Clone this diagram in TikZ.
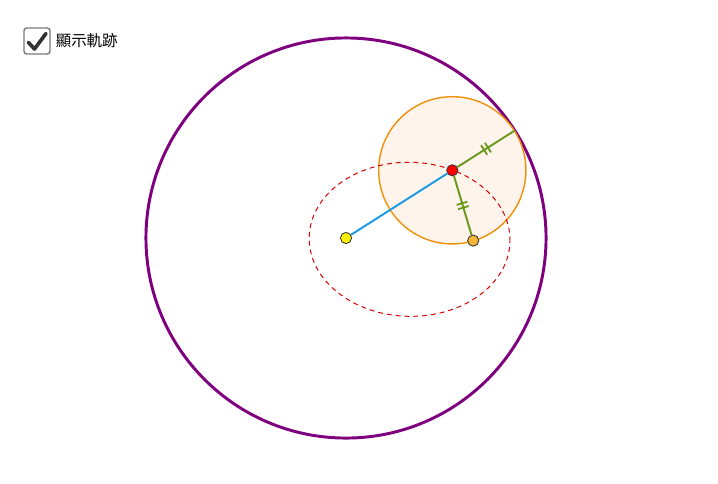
\documentclass[tikz,border=0pt]{standalone}
\usepackage{fontspec}
\newfontfamily\cjk{Noto Sans CJK TC}
\usepackage{tikz}
\usetikzlibrary{calc,positioning,decorations.markings}
\definecolor{locuspurple}{HTML}{7F007F}
\definecolor{circorange}{HTML}{F0900A}
\definecolor{circfill}{HTML}{FFF4EC}
\definecolor{segblue}{HTML}{1E9BE0}
\definecolor{seggreen}{HTML}{6B9A1E}
\definecolor{ptorange}{HTML}{F2B634}
\definecolor{boxgray}{HTML}{7A7A7A}

\begin{document}
\begin{tikzpicture}[x=0.025cm, y=-0.025cm,
    pt/.style={circle, draw=black!80, line width=0.6pt, inner sep=0pt, minimum size=0.28cm},
    twoticks/.style={decoration={markings, mark=at position 0.5 with {
      \draw[seggreen, line width=1.3pt] (-1.6pt,-4pt) -- (-1.6pt,4pt);
      \draw[seggreen, line width=1.3pt] (1.6pt,-4pt) -- (1.6pt,4pt);}}, postaction={decorate}}]

    \useasboundingbox (0,0) rectangle (718,483);

    % Points
    \coordinate (cY) at (346,238);
    \coordinate (cR) at (452.3,170.3);
    \coordinate (cO) at (473.2,240.6);
    \coordinate (cP) at ($(cY)!5cm!(cR)$);

    % Circles
    \draw[locuspurple, line width=2.1pt] (cY) circle (5cm);
    \draw[circorange, fill=circfill, line width=1pt] (cR) circle (1.84cm);
    \draw[red!85!black, line width=0.7pt, dash pattern=on 3.5pt off 2.8pt]
      ($(cY)!0.5!(cO)$) ellipse [x radius=2.51cm, y radius=1.925cm, rotate=-1.2];

    % Nodes
    \node[pt, fill=yellow] (yel) at (cY) {};
    \node[pt, fill=red] (red) at (cR) {};
    \node[pt, fill=ptorange] (org) at (cO) {};

    % Segments
    \draw[segblue, line width=1.4pt] (yel) -- (red);
    \draw[seggreen, line width=1.4pt, twoticks] (red) -- (cP);
    \draw[seggreen, line width=1.4pt, twoticks] (red) -- (org);

    % Checkbox
    \node[rectangle, rounded corners=2pt, draw=boxgray, line width=1pt, minimum size=0.65cm] (chk) at (37,41) {};
    \draw[black!80, line width=2.6pt, line cap=round, line join=round]
      ($(chk.center)+(-8.5,1.5)$) -- ($(chk.center)+(-2.5,8)$) -- ($(chk.center)+(9,-7.5)$);
    \node[right=0.12cm of chk, inner sep=0pt, font=\cjk\fontsize{11pt}{13pt}\selectfont] (lbl) {顯示軌跡};
\end{tikzpicture}
\end{document}
